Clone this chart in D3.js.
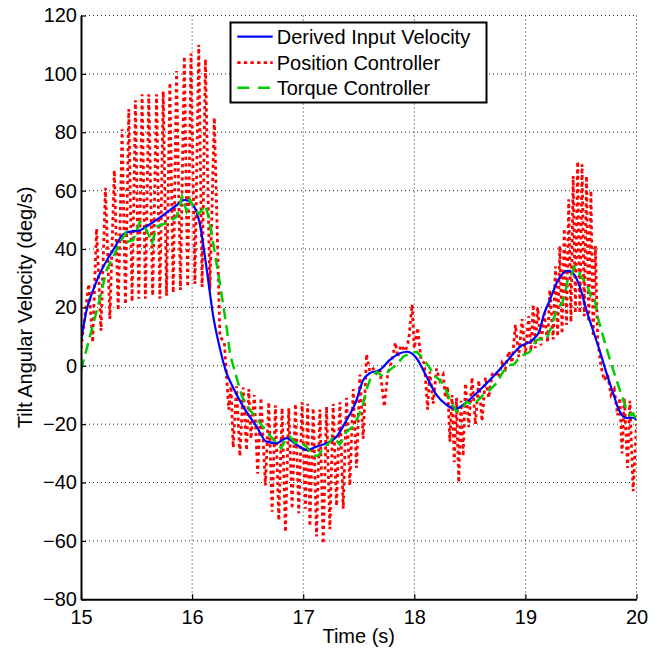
<!DOCTYPE html>
<html>
<head>
<meta charset="utf-8">
<script src="https://cdn.jsdelivr.net/npm/d3@7"></script>
<style>
  body { margin: 0; background: #fff; }
  text { font-family: "Liberation Sans", Arial, sans-serif; }
</style>
</head>
<body>
<div id="chart"></div>
<script>
// ticks
const xTicks = [15, 16, 17, 18, 19, 20]
const yTicks = [-80, -60, -40, -20, 0, 20, 40, 60, 80, 100, 120]
const seriesNames = ["Derived Input Velocity", "Position Controller", "Torque Controller"]

// Derived Input Velocity (blue)
const derivedT = [15.00, 15.05, 15.11, 15.17, 15.23, 15.29, 15.38, 15.45, 15.52, 15.59, 15.66, 15.74, 15.86, 15.93, 16.00, 16.07, 16.13, 16.19, 16.25, 16.31, 16.35, 16.46, 16.58, 16.67, 16.76, 16.85, 16.94, 17.03, 17.12, 17.21, 17.30, 17.39, 17.47, 17.54, 17.60, 17.69, 17.78, 17.87, 17.94, 18.02, 18.11, 18.20, 18.29, 18.37, 18.44, 18.56, 18.71, 18.83, 18.95, 19.07, 19.13, 19.16, 19.22, 19.28, 19.34, 19.38, 19.43, 19.49, 19.55, 19.61, 19.67, 19.73, 19.79, 19.84, 19.91, 19.97, 20.00]
const derivedV = [8.5, 19, 26, 31.6, 36, 39.7, 45, 46, 46.3, 47.7, 49.5, 51.6, 55, 56.8, 55.5, 48.5, 33.5, 17, 6, -2.5, -6, -14, -20.8, -26, -26.5, -24.8, -27, -28.8, -27.7, -26.5, -24.3, -18.6, -12.8, -4.9, -2.5, -1.4, 2, 4.3, 4.8, 2.6, -3.7, -10, -13.4, -14.8, -13.4, -9.4, -3.7, 1.4, 6.5, 9, 12.3, 16.8, 22.5, 28.3, 31.7, 32.5, 31.7, 27, 19, 12, 5, -2.5, -9.4, -15, -17.9, -17.8, -18.6]

// Position Controller (red dotted)
const positionT = [15.00, 15.07, 15.105, 15.14, 15.18, 15.22, 15.26, 15.30, 15.335, 15.37, 15.40, 15.43, 15.46, 15.49, 15.52, 15.55, 15.58, 15.61, 15.645, 15.68, 15.71, 15.74, 15.77, 15.80, 15.83, 15.86, 15.895, 15.93, 15.96, 15.99, 16.025, 16.06, 16.09, 16.12, 16.16, 16.20, 16.25, 16.29,
  16.33, 16.35, 16.37, 16.40, 16.43, 16.46, 16.49, 16.51, 16.53, 16.56, 16.59, 16.62, 16.66, 16.69, 16.72, 16.75, 16.78, 16.81, 16.84, 16.87, 16.90, 16.93, 16.96, 16.99, 17.02, 17.04, 17.06, 17.09, 17.12, 17.15, 17.18, 17.21, 17.24, 17.27, 17.30, 17.33, 17.36, 17.39, 17.42, 17.45, 17.48, 17.51, 17.54, 17.57, 17.60,
  17.63, 17.66, 17.69, 17.73, 17.76, 17.80, 17.83, 17.85, 17.88, 17.92, 17.95, 17.98, 18.00, 18.03, 18.06, 18.09, 18.12, 18.14, 18.17, 18.20, 18.23, 18.26, 18.28, 18.30, 18.32, 18.34, 18.36, 18.38, 18.40, 18.42, 18.44, 18.46, 18.49, 18.52, 18.55, 18.58, 18.61, 18.64, 18.67, 18.70,
  18.73, 18.76, 18.79, 18.82, 18.85, 18.88, 18.91, 18.94, 18.97, 19.00, 19.03, 19.05, 19.07, 19.09, 19.11, 19.14, 19.17, 19.20, 19.22, 19.25, 19.27, 19.29, 19.31, 19.33, 19.35, 19.37, 19.39, 19.41, 19.43, 19.45, 19.47, 19.49, 19.51, 19.53, 19.55, 19.57, 19.59, 19.61, 19.63, 19.65, 19.68, 19.71, 19.74, 19.77, 19.80, 19.83, 19.85, 19.87, 19.89, 19.92, 19.94, 19.97, 20.00]
const positionV = [6, 28, 8, 47, 12, 61, 16, 67, 19, 81, 21, 88, 22, 91, 23, 93, 23, 93, 24, 93, 23, 94, 24, 97, 25, 101, 26, 106, 27, 107, 28, 110, 27, 105, 26, 85, 10, 8,
  -15, -7, -28, -7, -31, -7.5, -29, -8, -25, -10, -37, -11, -41, -12.5, -50, -13.5, -53, -14.5, -57, -14.5, -49, -13, -50.5, -12.5, -49, -13, -55, -14.5, -58.5, -15, -61, -14, -56, -13, -48, -12.5, -49, -11, -41, -8, -35, -3, -25, 4, -2,
  -1, -2.5, -1, -14, -3, 2, 8, 3, 7, 5, 9, 21, 6, 13, 2, 1, -15, -2, -13, -1, -5, -3, -11, -7, -26, -10, -33, -11, -40, -12, -31, -6, -21, -4, -20, -5, -19, -4, -11, -3,
  -2, -4, 1, -1, 5, 1, 14, 3, 16, 4, 17, 5, 21, 6, 20, 7, 18, 8, 26, 9, 34, 10, 41, 11, 47, 14, 57, 15, 65, 18, 70, 18, 69, 17, 65, 15, 60, 10, 41, 9, 0, -5, -3, -10, -8, -17, -11, -30, -11, -35, -12, -43, -20]

// Torque Controller (green dashed)
const torqueT = [15.00, 15.08, 15.15, 15.23, 15.29, 15.35, 15.40, 15.42, 15.47, 15.53, 15.59, 15.64, 15.68, 15.77, 15.86, 15.91, 15.95, 15.98, 16.01, 16.06, 16.12, 16.15, 16.19, 16.25, 16.31, 16.34, 16.37, 16.45, 16.50, 16.58, 16.66, 16.72, 16.80, 16.84, 16.88, 16.93, 16.97, 17.03, 17.09, 17.14, 17.18, 17.23, 17.27, 17.33, 17.39, 17.45, 17.50, 17.54, 17.57, 17.60, 17.66, 17.72, 17.78, 17.84, 17.90, 17.96, 18.02, 18.08, 18.13, 18.19, 18.23, 18.28, 18.32, 18.38, 18.43, 18.47, 18.52, 18.56, 18.62, 18.68, 18.74, 18.80, 18.86, 18.90, 18.95, 19.04, 19.10, 19.16, 19.19, 19.23, 19.27, 19.30, 19.33, 19.36, 19.38, 19.41, 19.44, 19.47, 19.50, 19.55, 19.59, 19.62, 19.65, 19.70, 19.77, 19.82, 19.87, 19.91, 19.94, 19.97, 20.00]
const torqueV = [-1.5, 10, 20, 32.8, 37.4, 42, 45.4, 42.5, 43, 49.4, 46.5, 42, 47.7, 48.9, 51, 58, 53, 57, 54.5, 52, 55, 50.6, 42, 28.3, 13.4, 4.3, 0, -10.6, -14, -18, -22, -24.8, -28.3, -25.4, -24.3, -26.5, -26, -27.7, -31, -30.6, -28.3, -26.5, -24.3, -27, -22.6, -20.8, -17, -13, -8.2, -4.9, -2, -3.7, -1.4, 0.3, 3.1, 4.3, 4.8, 2.6, -0.3, -3.7, -4.9, -7.7, -11.7, -15.7, -15, -12.3, -13.4, -12.3, -10, -8.2, -6, -2, 0.3, 0.5, 3.1, 4.8, 8.8, 9.4, 9, 13, 18, 20.2, 21.4, 25.4, 29.4, 30.5, 34, 33.4, 30.5, 28.3, 23.7, 23.7, 16.8, 10, 0.9, -4.9, -10.6, -15, -16.8, -16.3, -18.6]

const width = 657, height = 651
const plotLeft = 81, plotRight = 636.5, plotTop = 15.5, plotBottom = 599.3

const svg = d3.select("#chart").append("svg")
  .attr("width", width)
  .attr("height", height)

const x = d3.scaleLinear().domain([15, 20]).range([plotLeft, plotRight])
const y = d3.scaleLinear().domain([-80, 120]).range([plotBottom, plotTop])

// dotted grid
const grid = svg.append("g")
  .attr("stroke", "#222")
  .attr("stroke-width", 1)
  .attr("stroke-dasharray", "1,3")
grid.selectAll("line.v").data(xTicks.slice(1)).join("line")
  .attr("class", "v")
  .attr("x1", d => x(d)).attr("x2", d => x(d))
  .attr("y1", plotTop).attr("y2", plotBottom)
grid.selectAll("line.h").data(yTicks.slice(1)).join("line")
  .attr("class", "h")
  .attr("x1", plotLeft).attr("x2", plotRight)
  .attr("y1", d => y(d)).attr("y2", d => y(d))

svg.append("clipPath").attr("id", "clip")
  .append("rect")
  .attr("x", plotLeft).attr("y", plotTop)
  .attr("width", plotRight - plotLeft).attr("height", plotBottom - plotTop)

const plot = svg.append("g").attr("clip-path", "url(#clip)")

function pairs(ts, vs) {
  return ts.map((t, i) => [t, vs[i]])
}

const lineLinear = d3.line().x(d => x(d[0])).y(d => y(d[1]))
const lineSmooth = d3.line().x(d => x(d[0])).y(d => y(d[1])).curve(d3.curveMonotoneX)

// red dotted
plot.append("path")
  .datum(pairs(positionT, positionV))
  .attr("d", lineLinear)
  .attr("fill", "none")
  .attr("stroke", "#ff0000")
  .attr("stroke-width", 2.8)
  .attr("stroke-dasharray", "3.2,3.4")

// blue solid
plot.append("path")
  .datum(pairs(derivedT, derivedV))
  .attr("d", lineSmooth)
  .attr("fill", "none")
  .attr("stroke", "#0000ff")
  .attr("stroke-width", 2.2)

// green dashed
plot.append("path")
  .datum(pairs(torqueT, torqueV))
  .attr("d", lineLinear)
  .attr("fill", "none")
  .attr("stroke", "#00cc00")
  .attr("stroke-width", 2.5)
  .attr("stroke-dasharray", "11,6")

// axes
svg.append("g")
  .attr("transform", `translate(0,${plotBottom})`)
  .call(d3.axisBottom(x).tickValues(xTicks).tickFormat(d3.format("d")).tickSizeInner(-5).tickSizeOuter(0).tickPadding(10.5))
svg.append("g")
  .attr("transform", `translate(${plotLeft},0)`)
  .call(d3.axisLeft(y).tickValues(yTicks).tickFormat(d3.format("d")).tickSizeInner(-5).tickSizeOuter(0).tickPadding(4))

svg.selectAll(".domain").attr("stroke", "#000").attr("stroke-width", 2)
svg.selectAll(".tick line").attr("stroke", "#000").attr("stroke-width", 1.2)
svg.selectAll(".tick text")
  .attr("fill", "#000")
  .style("font-size", "20px")
  .style("font-family", "'Liberation Sans', Arial, sans-serif")

// axis labels
svg.append("text")
  .attr("x", (plotLeft + plotRight) / 2)
  .attr("y", 643)
  .attr("text-anchor", "middle")
  .style("font-size", "20px")
  .text("Time (s)")

svg.append("text")
  .attr("transform", `translate(32,${(plotTop + plotBottom) / 2}) rotate(-90)`)
  .attr("text-anchor", "middle")
  .style("font-size", "20px")
  .text("Tilt Angular Velocity (deg/s)")

// legend
const legend = svg.append("g")
legend.append("rect")
  .attr("x", 230.5).attr("y", 22.5)
  .attr("width", 256).attr("height", 80)
  .attr("fill", "#fff")
  .attr("stroke", "#000")
  .attr("stroke-width", 2)

const legendRows = [36.7, 62.7, 87.7]
const legendStyle = [
  { color: "#0000ff", dash: null, w: 2.2 },
  { color: "#ff0000", dash: "3.3,3.3", w: 2.8 },
  { color: "#00cc00", dash: "12,8.7", w: 2.5 }
]
seriesNames.forEach((name, i) => {
  legend.append("line")
    .attr("x1", 237.3).attr("x2", 272.7)
    .attr("y1", legendRows[i]).attr("y2", legendRows[i])
    .attr("stroke", legendStyle[i].color)
    .attr("stroke-width", legendStyle[i].w)
    .attr("stroke-dasharray", legendStyle[i].dash)
  legend.append("text")
    .attr("x", 276.7)
    .attr("y", legendRows[i])
    .attr("dy", "0.36em")
    .style("font-size", "20px")
    .text(name)
})
</script>
</body>
</html>
